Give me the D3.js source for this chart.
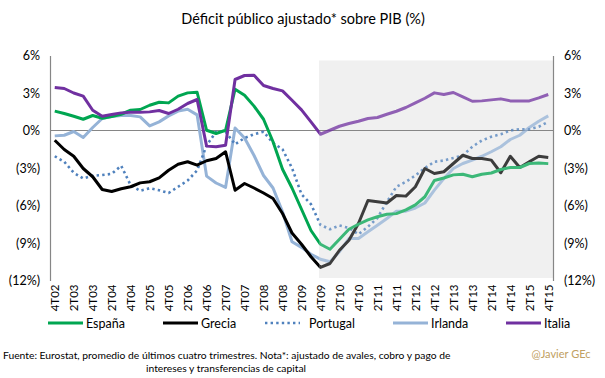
<!DOCTYPE html>
<html>
<head>
<meta charset="utf-8">
<script src="https://cdn.jsdelivr.net/npm/d3@7"></script>
<style>
  html, body { margin: 0; padding: 0; background: #fff; }
  svg { display: block; font-family: Lato, "Open Sans", sans-serif; }
</style>
</head>
<body>
<svg id="chart" width="605" height="378"></svg>
<script>
const quarters = [
  "4T02",
  "1T03","2T03","3T03","4T03",
  "1T04","2T04","3T04","4T04",
  "1T05","2T05","3T05","4T05",
  "1T06","2T06","3T06","4T06",
  "1T07","2T07","3T07","4T07",
  "1T08","2T08","3T08","4T08",
  "1T09","2T09","3T09","4T09",
  "1T10","2T10","3T10","4T10",
  "1T11","2T11","3T11","4T11",
  "1T12","2T12","3T12","4T12",
  "1T13","2T13","3T13","4T13",
  "1T14","2T14","3T14","4T14",
  "1T15","2T15","3T15","4T15"
];
const tickLabels = quarters.filter((q, i) => i % 2 === 0);

const espana = [1.55,1.36,1.14,0.90,1.20,0.98,1.12,1.30,1.62,1.68,2.02,2.26,2.21,2.75,3.01,3.06,
  0.02,-0.24,0.02,3.30,2.82,1.95,0.90,-0.90,-3.10,-4.60,-6.30,-8.00,-9.10,-9.50,-8.70,-7.90,-7.50,
  -7.15,-6.90,-6.70,-6.65,-6.35,-5.95,-5.30,-4.00,-3.80,-3.55,-3.50,-3.70,-3.50,-3.40,-3.12,-2.96,
  -2.96,-2.64,-2.60,-2.65];
const grecia = [-0.78,-1.52,-2.06,-3.04,-3.70,-4.72,-4.88,-4.66,-4.50,-4.19,-4.10,-3.79,-3.18,-2.70,
  -2.50,-2.77,-2.42,-2.24,-1.70,-4.78,-4.24,-4.60,-5.00,-5.44,-6.64,-8.20,-9.10,-10.10,-10.95,-10.64,
  -9.58,-8.78,-7.44,-5.60,-5.70,-5.80,-5.20,-5.25,-4.50,-3.04,-3.44,-3.30,-2.64,-1.98,-2.24,-2.24,
  -2.37,-3.38,-2.06,-2.96,-2.50,-2.06,-2.16];
const portugal = [-2.06,-2.50,-3.38,-3.84,-3.62,-3.56,-3.47,-2.82,-4.38,-4.82,-4.62,-4.78,-5.00,-4.50,
  -4.00,-3.20,-1.20,-0.10,-0.10,-1.10,-0.60,-0.30,-0.10,-1.00,-1.50,-3.00,-5.10,-5.90,-7.55,-7.90,
  -7.60,-7.80,-8.30,-7.70,-7.00,-5.70,-4.50,-4.10,-3.60,-3.00,-2.50,-2.40,-2.20,-2.00,-1.30,-0.80,
  -0.50,-0.30,0.00,0.10,0.10,0.30,0.70];
const irlanda = [-0.43,-0.38,-0.08,-0.56,0.24,0.96,1.12,1.20,1.20,1.09,0.37,0.69,1.17,1.55,1.70,1.25,
  -3.65,-4.20,-4.55,0.20,-0.60,-2.00,-3.60,-4.60,-6.50,-8.90,-9.35,-9.90,-10.30,-10.50,-9.70,-8.64,
  -8.64,-8.10,-7.58,-7.04,-6.45,-6.45,-6.20,-5.80,-4.77,-3.84,-3.04,-2.64,-2.37,-2.06,-1.70,-1.30,
  -0.72,-0.38,0.24,0.74,1.17];
const italia = [3.44,3.36,3.00,2.75,1.62,1.14,1.28,1.41,1.46,1.46,1.49,1.60,1.36,1.70,2.16,2.48,
  -1.25,-1.30,-1.18,4.08,4.40,4.42,3.60,3.36,3.17,2.42,1.65,0.69,-0.30,0.02,0.34,0.56,0.74,0.96,
  1.04,1.30,1.54,1.84,2.21,2.58,3.01,2.88,3.04,2.69,2.34,2.37,2.45,2.53,2.37,2.37,2.37,2.61,2.88];

const seriesNames = ["España", "Grecia", "Portugal", "Irlanda", "Italia"];
const seriesValues = [espana, grecia, portugal, irlanda, italia];
const seriesColors = ["#00a651", "#000000", "#4f81bd", "#95b3d7", "#7030a0"];
const seriesDash = [null, null, "2.4 3.2", null, null];
const seriesWidth = [3, 3, 2.6, 3, 3];

const yTicks = [-12, -9, -6, -3, 0, 3, 6];
const shadeStart = "4T09";
const shadeTop = 5.6, shadeBottom = -11.8;

const title = "Déficit público ajustado* sobre PIB (%)";
const note1 = "Fuente: Eurostat, promedio de últimos cuatro trimestres. Nota*: ajustado de avales, cobro y pago de";
const note2 = "intereses y transferencias de capital";
const author = "@Javier GEc";

const svg = d3.select("#chart");
const L = 50, R = 553, T = 55.5, B = 280.5;

const x = d3.scalePoint().domain(quarters).range([L, R]).padding(0.5);
const y = d3.scaleLinear().domain([-12, 6]).range([B, T]);
const fmt = v => v < 0 ? `(${-v}%)` : `${v}%`;

// title
svg.append("text").attr("x", 303).attr("y", 24).attr("text-anchor", "middle")
  .attr("font-size", 14.5).attr("fill", "#000").text(title);

// shaded region
const sx = x(shadeStart) - 1.5;
svg.append("rect").attr("x", sx).attr("y", y(shadeTop))
  .attr("width", R - sx).attr("height", y(shadeBottom) - y(shadeTop))
  .attr("fill", "#f0f0f0");

// zero line
svg.append("line").attr("x1", L).attr("x2", R).attr("y1", y(0)).attr("y2", y(0))
  .attr("stroke", "#868686").attr("stroke-width", 1);

// axes
const yl = svg.append("g").attr("transform", `translate(${L},0)`)
  .call(d3.axisLeft(y).tickValues(yTicks).tickSize(0).tickSizeOuter(0).tickPadding(10).tickFormat(fmt));
const yr = svg.append("g").attr("transform", `translate(${R},0)`)
  .call(d3.axisRight(y).tickValues(yTicks).tickSize(0).tickSizeOuter(0).tickPadding(11).tickFormat(fmt));
[yl, yr].forEach(g => {
  g.select(".domain").attr("stroke", "#868686").attr("stroke-width", 1.2);
  g.selectAll("text").attr("font-size", 12.5).attr("fill", "#000").attr("font-family", "Lato, sans-serif");
});

const xa = svg.append("g").attr("transform", `translate(0,${B + 4})`)
  .call(d3.axisBottom(x).tickValues(tickLabels).tickSize(0).tickPadding(0));
xa.select(".domain").remove();
xa.selectAll("text")
  .attr("font-size", 11.5).attr("fill", "#000").attr("font-family", "Lato, sans-serif")
  .attr("text-anchor", "end").attr("dy", "0.35em").attr("y", 0).attr("x", 0)
  .attr("transform", "rotate(-90)");

// clip paths
const defs = svg.append("defs");
defs.append("clipPath").attr("id", "clipA").append("rect")
  .attr("x", 0).attr("y", 0).attr("width", sx).attr("height", 378);
defs.append("clipPath").attr("id", "clipB").append("rect")
  .attr("x", sx).attr("y", 0).attr("width", 605 - sx).attr("height", 378);

const line = d3.line().x((d, i) => x(quarters[i])).y(d => y(d));
const drawOrder = [3, 2, 1, 0, 4];
["clipA", "clipB"].forEach(cid => {
  const g = svg.append("g").attr("clip-path", `url(#${cid})`)
    .attr("opacity", cid === "clipB" ? 0.75 : 1);
  drawOrder.forEach(k => {
    g.append("path").datum(seriesValues[k]).attr("d", line)
      .attr("fill", "none").attr("stroke", seriesColors[k])
      .attr("stroke-width", seriesWidth[k])
      .attr("stroke-linejoin", "round")
      .attr("stroke-dasharray", seriesDash[k]);
  });
});

// legend
const legendX = [48, 163, 265, 393, 506];
const lg = svg.append("g");
seriesNames.forEach((n, k) => {
  const lx = legendX[k];
  lg.append("line").attr("x1", lx).attr("x2", lx + 35).attr("y1", 323).attr("y2", 323)
    .attr("stroke", seriesColors[k]).attr("stroke-width", seriesWidth[k])
    .attr("stroke-dasharray", seriesDash[k]);
  lg.append("text").attr("x", lx + 38 + (k === 2 ? 6 : 0)).attr("y", 327.5)
    .attr("font-size", 12.5).attr("fill", "#000").text(n);
});

// notes
svg.append("text").attr("x", 3).attr("y", 359).attr("font-size", 10.3).attr("fill", "#000").text(note1);
svg.append("text").attr("x", 226).attr("y", 372).attr("text-anchor", "middle")
  .attr("font-size", 10.3).attr("fill", "#000").text(note2);
svg.append("text").attr("x", 561).attr("y", 358).attr("text-anchor", "middle")
  .attr("font-size", 11).attr("fill", "#c0a062").text(author);
</script>
</body>
</html>
